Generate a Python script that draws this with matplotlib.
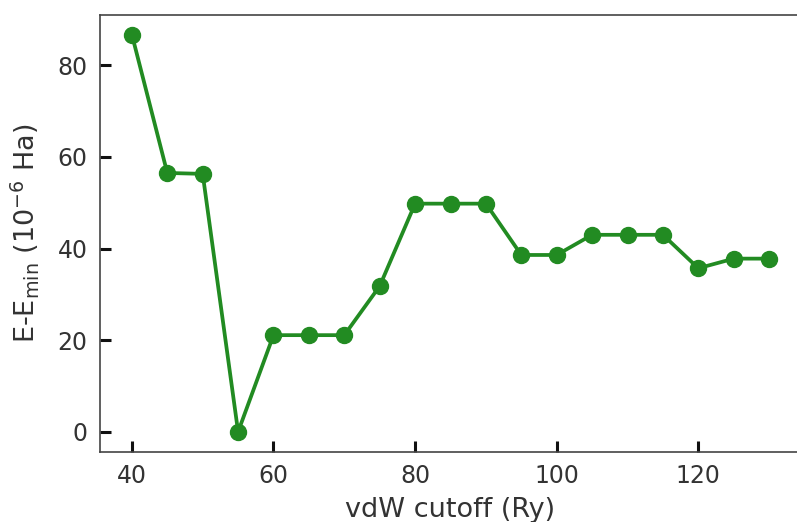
import matplotlib
matplotlib.use("Agg")
import matplotlib.pyplot as plt

cutoff = [40, 45, 50, 55, 60, 65, 70, 75, 80, 85, 90, 95, 100, 105, 110, 115, 120, 125, 130]
energy = [86.7, 56.5, 56.3, 0.0, 21.1, 21.1, 21.1, 31.8, 49.8, 49.8, 49.8, 38.6, 38.6,
          43.0, 43.0, 43.0, 35.7, 37.8, 37.8]

fig = plt.figure(figsize=(7.97, 5.22), dpi=100)
ax = fig.add_axes([0.1255, 0.1347, 0.8795, 0.8371])
ax.plot(cutoff, energy, color="#228B22", lw=2.7, marker="o", markersize=11.5)

ax.set_xticks([40, 60, 80, 100, 120])
ax.set_yticks([0, 20, 40, 60, 80])
ax.tick_params(direction="in", length=8, width=2.2, labelsize=17, colors="#111111",
               labelcolor="#333333", pad=9)
for s in ax.spines.values():
    s.set_color("#444444")
    s.set_linewidth(1.2)
ax.spines["right"].set_visible(False)
ax.set_xlabel("vdW cutoff (Ry)", fontsize=19.5, color="#333333", labelpad=6)
ax.set_ylabel(r"E-E$_{\mathrm{min}}$ (10$^{-6}$ Ha)", fontsize=19.5, color="#333333", labelpad=12)

fig.savefig("out.png", dpi=100)
